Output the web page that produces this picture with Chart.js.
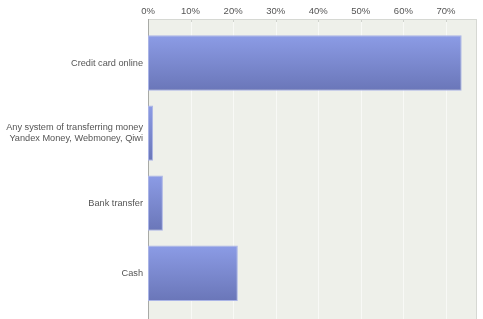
<!DOCTYPE html>
<html><head><meta charset="utf-8">
<script src="https://cdn.jsdelivr.net/npm/chart.js@4"></script>
<style>html,body{margin:0;padding:0;background:#fff}#w{width:483px;height:319px}</style>
</head><body><div id="w"><canvas id="c"></canvas></div>
<script>
const categories = ["Credit card online", ["Any system of transferring money", "Yandex Money, Webmoney, Qiwi"], "Bank transfer", "Cash"];
const values = [73.7, 1.2, 3.5, 21.1];
const tickValues = [0, 10, 20, 30, 40, 50, 60, 70];

const bgPlugin = {
  id: 'bg',
  beforeDraw(chart) {
    const ctx = chart.ctx, x = chart.scales.x, a = chart.chartArea;
    const top = 19, bottom = 319;
    ctx.save();
    ctx.fillStyle = '#eef0ea';
    ctx.fillRect(a.left, top, a.right - a.left, bottom - top);
    ctx.strokeStyle = '#f8f9f6';
    ctx.lineWidth = 1;
    tickValues.forEach(v => {
      if (v === 0) return;
      const px = Math.round(x.getPixelForValue(v)) + 0.5;
      ctx.beginPath(); ctx.moveTo(px, top); ctx.lineTo(px, bottom); ctx.stroke();
    });
    ctx.strokeStyle = '#cfd2cc';
    tickValues.forEach(v => {
      const px = Math.round(x.getPixelForValue(v)) + 0.5;
      ctx.beginPath(); ctx.moveTo(px, top); ctx.lineTo(px, top + 3); ctx.stroke();
    });
    ctx.strokeStyle = '#d6d8d3';
    ctx.beginPath(); ctx.moveTo(a.left, top + 0.5); ctx.lineTo(a.right, top + 0.5); ctx.stroke();
    ctx.beginPath(); ctx.moveTo(a.right - 0.5, top); ctx.lineTo(a.right - 0.5, bottom); ctx.stroke();
    ctx.strokeStyle = '#a8aaa6';
    ctx.beginPath(); ctx.moveTo(a.left + 0.5, top); ctx.lineTo(a.left + 0.5, bottom); ctx.stroke();
    ctx.restore();
  }
};

new Chart(document.getElementById('c'), {
  type: 'bar',
  data: {
    labels: categories,
    datasets: [{
      data: values,
      backgroundColor(c) {
        const chart = c.chart, y = chart.scales.y;
        if (!y || c.dataIndex === undefined) return '#7a88d0';
        const cy = y.getPixelForValue(c.dataIndex);
        if (!isFinite(cy)) return '#7a88d0';
        const g = chart.ctx.createLinearGradient(0, cy - 28, 0, cy + 28);
        g.addColorStop(0, '#8c9ce6');
        g.addColorStop(1, '#6a76b8');
        return g;
      },
      borderColor: '#aab4e6',
      borderWidth: 1,
      borderSkipped: false,
      categoryPercentage: 0.79,
      barPercentage: 1
    }]
  },
  options: {
    indexAxis: 'y',
    responsive: true,
    maintainAspectRatio: false,
    animation: false,
    layout: { padding: { top: 0, right: 6, bottom: 8, left: 0 } },
    plugins: { legend: { display: false }, tooltip: { enabled: false } },
    scales: {
      x: {
        position: 'top',
        min: 0, max: 77.3,
        afterBuildTicks(s) { s.ticks = tickValues.map(v => ({ value: v })); },
        afterFit(s) { s.height = 28; },
        grid: { display: false, drawTicks: false },
        border: { display: false },
        ticks: { padding: 11, color: '#555', font: { family: 'Liberation Sans, Arial', size: 9.5 }, callback: v => v + '%' }
      },
      y: {
        afterFit(s) { s.width = 148; },
        grid: { display: false, drawTicks: false },
        border: { display: false },
        ticks: { padding: 5, color: '#555', font: { family: 'Liberation Sans, Arial', size: 9.2, lineHeight: 1.25 } }
      }
    }
  },
  plugins: [bgPlugin]
});
</script>
</body></html>
